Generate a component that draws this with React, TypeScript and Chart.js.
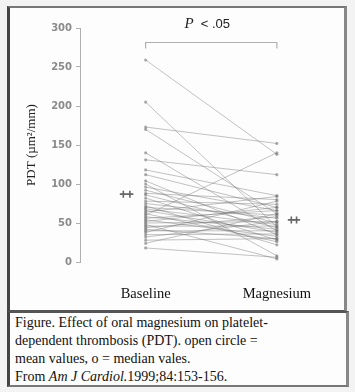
import React, { useEffect, useRef } from "react";
import { Chart, registerables } from "chart.js";

Chart.register(...registerables);

const groups = ["Baseline", "Magnesium"];
const groupPositions = [1, 2];
const baselineValues = [259, 205, 173, 170, 140, 131, 118, 112, 104, 100, 96, 92, 88, 86, 82, 78, 75, 72, 70, 68, 66, 64, 62, 60, 58, 56, 54, 52, 50, 48, 46, 44, 42, 40, 38, 35, 32, 28, 24, 18];
const magnesiumValues = [138, 45, 152, 62, 40, 112, 85, 70, 35, 8, 66, 50, 80, 44, 28, 74, 56, 22, 60, 48, 38, 84, 26, 140, 42, 66, 33, 70, 52, 4, 46, 58, 30, 40, 78, 36, 52, 30, 62, 6];
const meanValues = [87, 54];
const markerOffsets = [[-0.17, -0.12], [0.11, 0.15]];
const yTickValues = [0, 50, 100, 150, 200, 250, 300];
const yTitle = "PDT (\u00b5m\u00b2/mm)";
const bracketLevel = 282;
const pTextLevel = 305;
const pTextParts = ["P", "  < .05"];
const captionLines = [
  "Figure. Effect of oral magnesium on platelet-",
  "dependent thrombosis (PDT). open circle =",
  "mean values, o = median vales.",
];
const sourcePrefix = "From ";
const sourceJournal = "Am J Cardiol.";
const sourceRest = "1999;84:153-156.";

const bracketPlugin = {
  id: "bracket",
  afterDraw(chart: any) {
    const { ctx, scales } = chart;
    const x = scales.x;
    const y = scales.y;
    const x1 = x.getPixelForValue(groupPositions[0]);
    const x2 = x.getPixelForValue(groupPositions[1]);
    const yb = Math.round(y.getPixelForValue(bracketLevel)) + 0.5;
    ctx.save();
    ctx.strokeStyle = "#b0b0b0";
    ctx.lineWidth = 1.2;
    ctx.beginPath();
    ctx.moveTo(x1, yb + 6);
    ctx.lineTo(x1, yb);
    ctx.lineTo(x2, yb);
    ctx.lineTo(x2, yb + 6);
    ctx.stroke();
    const ty = y.getPixelForValue(pTextLevel);
    const f1 = 'italic 15px "Liberation Serif", serif';
    const f2 = '13px "Liberation Sans", sans-serif';
    ctx.font = f1;
    const w1 = ctx.measureText(pTextParts[0]).width;
    ctx.font = f2;
    const w2 = ctx.measureText(pTextParts[1]).width;
    const cx = x.getPixelForValue((groupPositions[0] + groupPositions[1]) / 2) - 4;
    const sx = cx - (w1 + w2) / 2;
    ctx.fillStyle = "#222";
    ctx.textBaseline = "middle";
    ctx.textAlign = "left";
    ctx.font = f1;
    ctx.fillText(pTextParts[0], sx, ty);
    ctx.font = f2;
    ctx.fillText(pTextParts[1], sx + w1, ty);
    ctx.restore();
  },
};

export default function App() {
  const ref = useRef<HTMLCanvasElement>(null);

  useEffect(() => {
    if (!ref.current) return;
    const pairSets = baselineValues.map((b, i) => ({
      type: "scatter" as const,
      data: [
        { x: groupPositions[0], y: b },
        { x: groupPositions[1], y: magnesiumValues[i] },
      ],
      showLine: true,
      borderColor: "rgba(105,105,105,0.4)",
      borderWidth: 1,
      pointRadius: 1.6,
      pointBackgroundColor: "rgba(110,110,110,0.55)",
      pointBorderWidth: 0,
    }));
    const markerData: { x: number; y: number }[] = [];
    meanValues.forEach((m, g) => {
      markerOffsets[g].forEach((o) => markerData.push({ x: groupPositions[g] + o, y: m }));
    });
    const markerSet = {
      type: "scatter" as const,
      data: markerData,
      showLine: false,
      pointStyle: "cross",
      pointRadius: 3.5,
      borderColor: "#666",
      backgroundColor: "#666",
      borderWidth: 1.6,
    };

    const chart = new Chart(ref.current, {
      type: "scatter",
      data: { datasets: [...pairSets, markerSet] as any },
      plugins: [bracketPlugin],
      options: {
        animation: false,
        responsive: false,
        devicePixelRatio: 1,
        layout: { padding: { left: 0, right: 33, top: 20, bottom: 0 } },
        plugins: { legend: { display: false }, tooltip: { enabled: false } },
        scales: {
          x: {
            type: "linear",
            min: 0.5,
            max: 2.26,
            afterBuildTicks: (s: any) => {
              s.ticks = groupPositions.map((v) => ({ value: v }));
            },
            afterFit: (s: any) => {
              s.height = 48;
            },
            ticks: {
              callback: (v: any) => {
                const i = groupPositions.indexOf(Number(v));
                return i >= 0 ? groups[i] : "";
              },
              font: { family: '"Liberation Serif", "Times New Roman", serif', size: 14.5 },
              color: "#111",
              padding: 23,
              maxRotation: 0,
            },
            grid: { display: false, drawTicks: false },
            border: { display: false },
          },
          y: {
            min: 0,
            max: 300,
            afterBuildTicks: (s: any) => {
              s.ticks = yTickValues.map((v) => ({ value: v }));
            },
            afterFit: (s: any) => {
              s.width = 70;
            },
            ticks: {
              font: { family: '"DejaVu Sans", sans-serif', size: 10, weight: "bold" },
              color: "#8a8a8a",
              padding: 4,
            },
            grid: { drawOnChartArea: false, drawTicks: true, tickLength: 4, color: "#b0b0b0" },
            border: { display: true, color: "#b0b0b0", width: 1 },
            title: {
              display: true,
              text: yTitle,
              font: { family: '"Liberation Serif", serif', size: 13 },
              color: "#222",
              padding: { top: 14, bottom: 0 },
            },
          },
        },
      },
    });
    return () => chart.destroy();
  }, []);

  return (
    <div style={{ position: "fixed", left: 0, top: 0, width: 355, height: 392, background: "#f3f3f3", overflow: "hidden" }}>
      <div
        style={{
          position: "absolute",
          left: 7,
          top: 6,
          width: 340,
          height: 306,
          boxSizing: "border-box",
          borderLeft: "3px solid #444",
          borderTop: "2px solid #777",
          borderRight: "3px solid #888",
          borderBottom: "2px solid #555",
          background: "#fdfdfd",
        }}
      >
        <canvas ref={ref} width={334} height={302} style={{ position: "absolute", left: 0, top: 0, width: 334, height: 302 }} />
      </div>
      <div
        style={{
          position: "absolute",
          left: 7,
          top: 311,
          width: 342,
          height: 76,
          boxSizing: "border-box",
          borderLeft: "3px solid #444",
          borderTop: "2px solid #555",
          borderRight: "3px solid #888",
          borderBottom: "2px solid #777",
          background: "#fdfdfd",
          padding: "1px 0 0 5px",
          fontFamily: '"Liberation Serif", serif',
          fontSize: 14,
          lineHeight: "18px",
          color: "#111",
          whiteSpace: "nowrap",
        }}
      >
        {captionLines.map((l, i) => (
          <div key={i}>{l}</div>
        ))}
        <div>
          {sourcePrefix}
          <i>{sourceJournal}</i>
          {sourceRest}
        </div>
      </div>
    </div>
  );
}
